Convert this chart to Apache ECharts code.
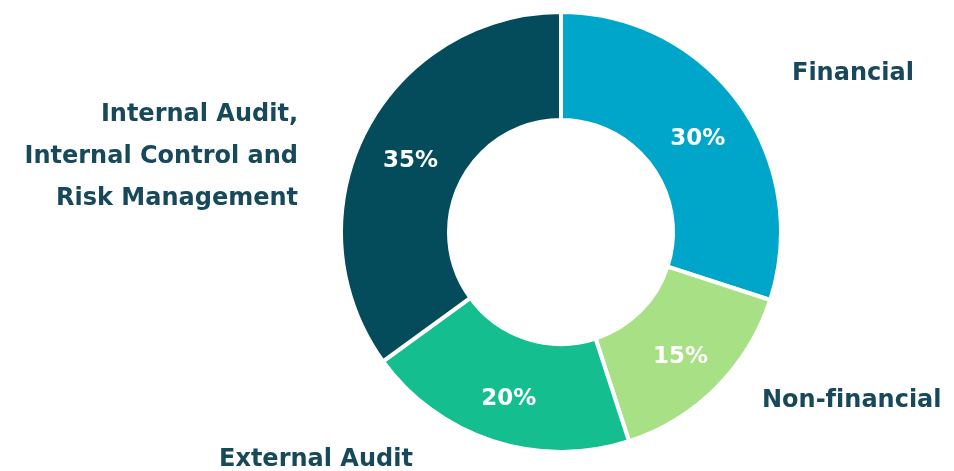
<!DOCTYPE html>
<html>
<head>
<meta charset="utf-8">
<script src="https://cdn.jsdelivr.net/npm/echarts@6/dist/echarts.min.js"></script>
<style>
  html, body { margin: 0; padding: 0; background: #ffffff; }
  #chart { width: 954px; height: 471px; }
</style>
</head>
<body>
<div id="chart"></div>
<script>
// Share of audit committee focus areas
// (a zero-width non-joiner keeps "f" and "i" from fusing into a ligature)
const categories = ['Financial', 'Non-f\u200Cinancial', 'External Audit', 'Internal Audit,\nInternal Control and\nRisk Management'];
const shares = [30, 15, 20, 35];
const sliceColors = ['#00A6C9', '#A8E086', '#14BE8F', '#044B5B'];

// Where each category name sits around the ring
const nameSpots = [
  { x: 792, y: 74, align: 'left' },
  { x: 762, y: 401, align: 'left' },
  { x: 219, y: 460, align: 'left' },
  { x: 298, y: 157, align: 'right' }
];

const chart = echarts.init(document.getElementById('chart'), null, { renderer: 'canvas' });

const pieData = categories.map((name, i) => ({
  name: name,
  value: shares[i],
  itemStyle: { color: sliceColors[i] }
}));

chart.setOption({
  backgroundColor: '#ffffff',
  animation: false,
  series: [
    {
      type: 'pie',
      center: [561, 232],
      radius: [112, 220],
      startAngle: 90,
      clockwise: true,
      silent: true,
      itemStyle: { borderColor: '#ffffff', borderWidth: 4 },
      label: {
        show: true,
        position: 'inside',
        formatter: p => p.value + '%',
        color: '#ffffff',
        fontFamily: 'DejaVu Sans',
        fontWeight: 'bold',
        fontSize: 23,
        offset: [0, 6]
      },
      labelLine: { show: false },
      data: pieData
    },
    {
      type: 'pie',
      center: [561, 232],
      radius: [112, 220],
      startAngle: 90,
      clockwise: true,
      silent: true,
      itemStyle: { color: 'rgba(0,0,0,0)', borderWidth: 0 },
      label: {
        show: true,
        position: 'outside',
        formatter: p => p.name,
        color: '#17495A',
        fontFamily: 'DejaVu Sans',
        fontWeight: 'bold',
        fontSize: 24,
        lineHeight: 42
      },
      labelLine: { show: false },
      labelLayout: p => {
        const s = nameSpots[p.dataIndex];
        return { x: s.x, y: s.y, align: s.align, verticalAlign: 'middle' };
      },
      data: categories.map((name, i) => ({ name: name, value: shares[i] }))
    }
  ]
});
</script>
</body>
</html>
